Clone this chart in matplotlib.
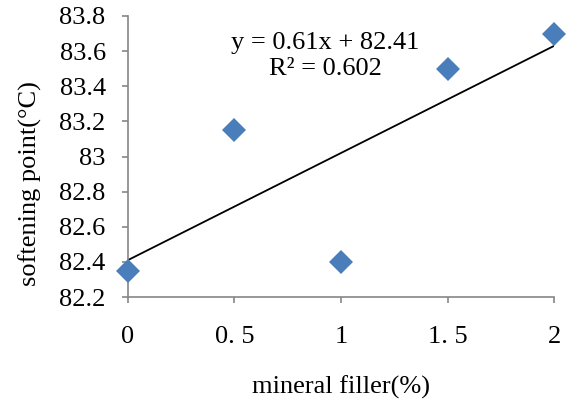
import numpy as np
import matplotlib
matplotlib.use("Agg")
import matplotlib.pyplot as plt

plt.rcParams["font.family"] = ["Liberation Serif", "DejaVu Serif"]

# data
filler = [0, 0.5, 1, 1.5, 2]
softening = [82.35, 83.15, 82.4, 83.5, 83.7]
x_ticks = [0, 0.5, 1, 1.5, 2]
x_tick_labels = ["0", "0. 5", "1", "1. 5", "2"]
y_ticks = [82.2, 82.4, 82.6, 82.8, 83, 83.2, 83.4, 83.6, 83.8]
y_tick_labels = ["82.2", "82.4", "82.6", "82.8", "83", "83.2", "83.4", "83.6", "83.8"]

# linear trend line
slope, intercept = np.polyfit(filler, softening, 1)

fig = plt.figure(figsize=(5.66, 4), dpi=100)
ax = fig.add_axes([0.226, 0.2575, 0.753, 0.7025])

xs = np.array([0, 2])
ax.plot(xs, slope * xs + intercept, color="black", lw=1.3, zorder=2)
ax.plot(filler, softening, "D", color="#4A7EBB", markersize=12, markeredgewidth=0,
        zorder=3, clip_on=False)

ax.text(0.925, 83.572, "y = %.2fx + %.2f\nR\u00b2 = 0.602" % (slope, intercept),
        ha="center", va="center", fontsize=19, linespacing=1.2)

ax.set_xlim(0, 2)
ax.set_ylim(82.2, 83.8)
ax.set_xticks(x_ticks)
ax.set_xticklabels(x_tick_labels)
ax.set_yticks(y_ticks)
ax.set_yticklabels(y_tick_labels)
ax.tick_params(axis="both", labelsize=19, direction="out", length=4, width=1.2, color="#868686")
ax.tick_params(axis="x", pad=17)
ax.tick_params(axis="y", pad=12)

for s in ["top", "right"]:
    ax.spines[s].set_visible(False)
for s in ["left", "bottom"]:
    ax.spines[s].set_color("#868686")
    ax.spines[s].set_linewidth(1.2)
ax.patch.set_alpha(0)

ax.set_xlabel("mineral filler(%)", fontsize=19, va="center")
ax.xaxis.set_label_coords(0.5, -0.322)
ax.set_ylabel("softening point(\u00b0C)", fontsize=19, va="center")
ax.yaxis.set_label_coords(-0.23, 0.402)

fig.savefig("out.png", dpi=100)
